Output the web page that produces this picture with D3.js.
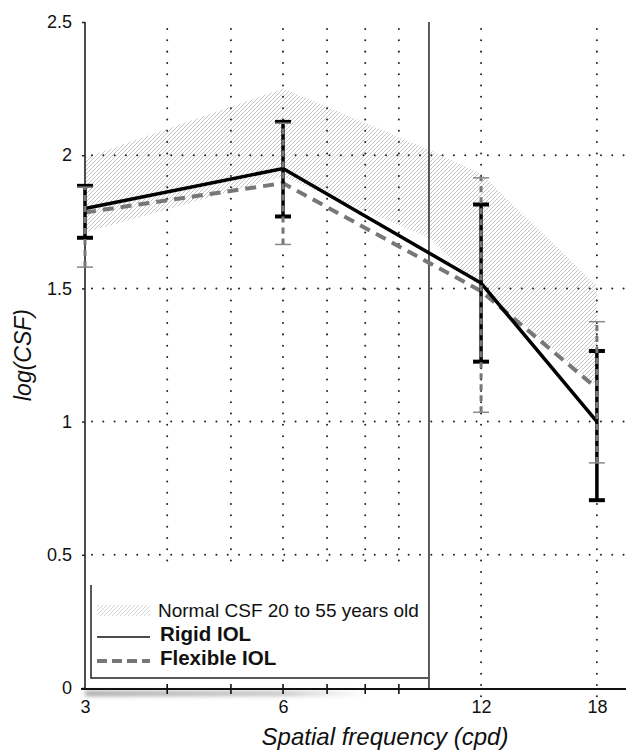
<!DOCTYPE html>
<html>
<head>
<meta charset="utf-8">
<script src="https://cdn.jsdelivr.net/npm/d3@7"></script>
<style>
  body { margin: 0; background: #fff; }
  svg text { font-family: "Liberation Sans", Arial, Helvetica, sans-serif; fill: #111; }
</style>
</head>
<body>
<svg id="chart" width="626" height="751"></svg>
<script>
// data
var freqs = [3, 6, 12, 18];
var rigidMean = [1.80, 1.95, 1.52, 1.00];
var rigidLow = [1.69, 1.77, 1.225, 0.705];
var rigidHigh = [1.885, 2.125, 1.815, 1.265];
var flexMean = [1.785, 1.895, 1.49, 1.125];
var flexLow = [1.58, 1.665, 1.035, 0.845];
var flexHigh = [1.88, 2.12, 1.915, 1.375];

// normal CSF band (20-55 years old)
var bandFreqs = [3, 6, 10, 12, 18];
var bandHigh = [1.99, 2.25, 2.02, 1.93, 1.51];
var bandLow = [1.71, 1.92, 1.69, 1.50, 1.13];

var yTicks = [0, 0.5, 1, 1.5, 2, 2.5];
var xLabelTicks = [3, 6, 12, 18];
var xMinorTicks = [4, 5, 6, 7, 8, 9];
var xGridFreqs = [4, 5, 6, 7, 8, 9, 12, 18];
var yGridVals = [0.5, 1, 1.5, 2];

var svg = d3.select("#chart");

var x = d3.scaleLog().domain([3, 20]).range([85, 627]);
var y = d3.scaleLinear().domain([0, 2.5]).range([688, 22]);

var defs = svg.append("defs");
var pat = defs.append("pattern")
	.attr("id", "hatch")
	.attr("patternUnits", "userSpaceOnUse")
	.attr("width", 4).attr("height", 4);
pat.append("path")
	.attr("d", "M-1,1 l2,-2 M0,4 l4,-4 M3,5 l2,-2")
	.attr("stroke", "#b4b4b4")
	.attr("stroke-width", 0.8);

var blur = defs.append("filter").attr("id", "blur")
	.attr("x", "-10%").attr("y", "-200%").attr("width", "120%").attr("height", "500%");
blur.append("feGaussianBlur").attr("stdDeviation", 2);
var grad = defs.append("linearGradient").attr("id", "shade");
grad.append("stop").attr("offset", "0").attr("stop-color", "#888").attr("stop-opacity", 0.8);
grad.append("stop").attr("offset", "0.7").attr("stop-color", "#999").attr("stop-opacity", 0.6);
grad.append("stop").attr("offset", "1").attr("stop-color", "#bbb").attr("stop-opacity", 0);

/* shadow under the x axis */
svg.append("rect")
	.attr("x", 85).attr("y", 691)
	.attr("width", 285).attr("height", 5)
	.attr("fill", "url(#shade)")
	.attr("filter", "url(#blur)");

/* hatched band */
var bandData = bandFreqs.map(function(f, i) {
	return { f: f, lo: bandLow[i], hi: bandHigh[i] };
});
var area = d3.area()
	.x(function(d) { return x(d.f); })
	.y0(function(d) { return y(d.lo); })
	.y1(function(d) { return y(d.hi); });
svg.append("path")
	.datum(bandData)
	.attr("d", area)
	.attr("fill", "url(#hatch)");

/* dotted grid */
var grid = svg.append("g")
	.attr("stroke", "#222")
	.attr("stroke-width", 2)
	.attr("stroke-linecap", "round")
	.attr("stroke-dasharray", "0.01,11.3");
grid.selectAll(".vg")
	.data(xGridFreqs)
	.enter().append("line")
	.attr("x1", function(d) { return x(d); })
	.attr("x2", function(d) { return x(d); })
	.attr("y1", 29)
	.attr("y2", function(d) { return d > 10 ? 697 : 684; });
grid.selectAll(".hg")
	.data(yGridVals)
	.enter().append("line")
	.attr("x1", 92)
	.attr("x2", 626)
	.attr("y1", function(d) { return y(d); })
	.attr("y2", function(d) { return y(d); });

/* legend background hides the grid below it */
svg.append("rect")
	.attr("x", 87).attr("y", 570).attr("width", 341).attr("height", 114)
	.attr("fill", "#fff");

/* axes */
var yAxis = d3.axisLeft(y)
	.tickValues(yTicks)
	.tickSize(3)
	.tickPadding(10)
	.tickFormat(function(d) { return String(d); });
var gy = svg.append("g")
	.attr("transform", "translate(85,0)")
	.call(yAxis);
gy.select(".domain").remove();
gy.selectAll("text").style("font-size", "18px").attr("fill", "#111");
gy.selectAll("line").attr("stroke", "#222").attr("stroke-width", 1.5);

var xAxis = d3.axisBottom(x)
	.tickValues(xLabelTicks)
	.tickSize(0)
	.tickPadding(11)
	.tickFormat(function(d) { return String(d); });
var gx = svg.append("g")
	.attr("transform", "translate(0,689)")
	.call(xAxis);
gx.select(".domain").remove();
gx.selectAll("text").style("font-size", "18px").attr("fill", "#111");

svg.selectAll(".minor")
	.data(xMinorTicks)
	.enter().append("line")
	.attr("x1", function(d) { return x(d); })
	.attr("x2", function(d) { return x(d); })
	.attr("y1", 684).attr("y2", 694)
	.attr("stroke", "#111").attr("stroke-width", 1.6);

// axis lines
svg.append("line")
	.attr("x1", 85).attr("x2", 85).attr("y1", 22).attr("y2", 689)
	.attr("stroke", "#222").attr("stroke-width", 1.6);
svg.append("line")
	.attr("x1", x(10)).attr("x2", x(10)).attr("y1", 22).attr("y2", 689)
	.attr("stroke", "#333").attr("stroke-width", 1.6);
svg.append("line")
	.attr("x1", 81).attr("x2", 626).attr("y1", 689).attr("y2", 689)
	.attr("stroke", "#111").attr("stroke-width", 2);

/* lines */
var rigidData = freqs.map(function(f, i) {
	return { f: f, m: rigidMean[i], lo: rigidLow[i], hi: rigidHigh[i] };
});
var flexData = freqs.map(function(f, i) {
	return { f: f, m: flexMean[i], lo: flexLow[i], hi: flexHigh[i] };
});
var line = d3.line()
	.x(function(d) { return x(d.f); })
	.y(function(d) { return y(d.m); });

svg.append("path")
	.datum(flexData)
	.attr("d", line)
	.attr("fill", "none")
	.attr("stroke", "#777")
	.attr("stroke-width", 4)
	.attr("stroke-dasharray", "11,7");

svg.append("path")
	.datum(rigidData)
	.attr("d", line)
	.attr("fill", "none")
	.attr("stroke", "#000")
	.attr("stroke-width", 3.5);

/* error bars */
var rBars = svg.append("g");
rBars.selectAll(".rb")
	.data(rigidData)
	.enter().append("line")
	.attr("x1", function(d) { return x(d.f); })
	.attr("x2", function(d) { return x(d.f); })
	.attr("y1", function(d) { return y(d.lo); })
	.attr("y2", function(d) { return y(d.hi); })
	.attr("stroke", "#000").attr("stroke-width", 3.5);
rBars.selectAll(".rcap")
	.data(rigidData.flatMap(function(d) { return [{ f: d.f, v: d.lo }, { f: d.f, v: d.hi }]; }))
	.enter().append("line")
	.attr("x1", function(d) { return x(d.f) - 8; })
	.attr("x2", function(d) { return x(d.f) + 8; })
	.attr("y1", function(d) { return y(d.v); })
	.attr("y2", function(d) { return y(d.v); })
	.attr("stroke", "#000").attr("stroke-width", 4);

var fBars = svg.append("g");
fBars.selectAll(".fb")
	.data(flexData)
	.enter().append("line")
	.attr("x1", function(d) { return x(d.f); })
	.attr("x2", function(d) { return x(d.f); })
	.attr("y1", function(d) { return y(d.lo); })
	.attr("y2", function(d) { return y(d.hi); })
	.attr("stroke", "#777").attr("stroke-width", 3)
	.attr("stroke-dasharray", "6,5");
fBars.selectAll(".fcap")
	.data(flexData.flatMap(function(d) { return [{ f: d.f, v: d.lo }, { f: d.f, v: d.hi }]; }))
	.enter().append("line")
	.attr("x1", function(d) { return x(d.f) - 8; })
	.attr("x2", function(d) { return x(d.f) + 8; })
	.attr("y1", function(d) { return y(d.v); })
	.attr("y2", function(d) { return y(d.v); })
	.attr("stroke", "#888").attr("stroke-width", 1.5);

/* legend */
var leg = svg.append("g");
leg.append("path")
	.attr("d", "M91,585 V678 H428")
	.attr("fill", "none")
	.attr("stroke", "#222").attr("stroke-width", 1.5);
leg.append("rect")
	.attr("x", 97).attr("y", 605).attr("width", 53).attr("height", 11)
	.attr("fill", "url(#hatch)").attr("opacity", 0.7);
leg.append("line")
	.attr("x1", 97).attr("x2", 150).attr("y1", 637).attr("y2", 637)
	.attr("stroke", "#111").attr("stroke-width", 1.6);
leg.append("line")
	.attr("x1", 97).attr("x2", 150).attr("y1", 661).attr("y2", 661)
	.attr("stroke", "#777").attr("stroke-width", 4)
	.attr("stroke-dasharray", "10,5");
leg.append("text")
	.attr("x", 158).attr("y", 617)
	.style("font-size", "19px")
	.text("Normal CSF 20 to 55 years old");
leg.append("text")
	.attr("x", 160).attr("y", 641)
	.style("font-size", "20.5px").style("font-weight", "bold")
	.text("Rigid IOL");
leg.append("text")
	.attr("x", 160).attr("y", 665)
	.style("font-size", "20.5px").style("font-weight", "bold")
	.text("Flexible IOL");

/* axis titles */
svg.append("text")
	.attr("x", 385).attr("y", 745)
	.attr("text-anchor", "middle")
	.style("font-size", "24px").style("font-style", "italic")
	.text("Spatial frequency (cpd)");
svg.append("text")
	.attr("transform", "translate(31,355) rotate(-90)")
	.attr("text-anchor", "middle")
	.style("font-size", "23px").style("font-style", "italic")
	.text("log(CSF)");
</script>
</body>
</html>
